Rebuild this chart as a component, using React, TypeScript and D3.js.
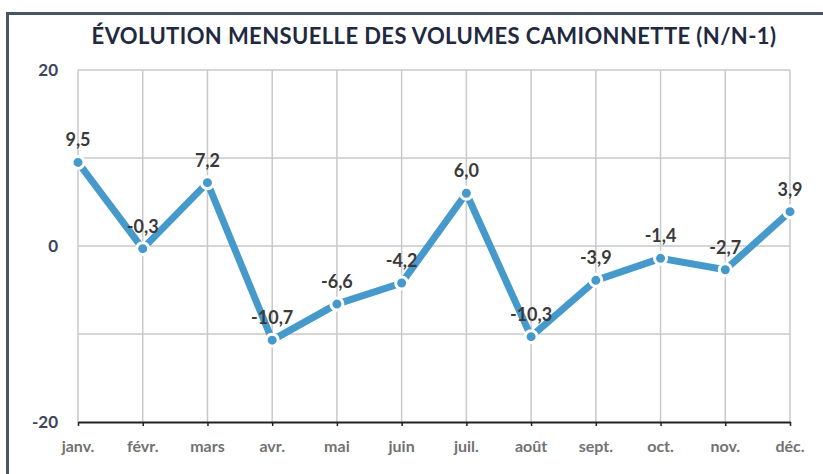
import { useEffect, useRef } from "react"
import * as d3 from "d3"

// données
const months = ["janv.", "févr.", "mars", "avr.", "mai", "juin", "juil.", "août", "sept.", "oct.", "nov.", "déc."]
const values = [9.5, -0.3, 7.2, -10.7, -6.6, -4.2, 6.0, -10.3, -3.9, -1.4, -2.7, 3.9]
const gridTicks = [-20, -10, 0, 10, 20]
const labelTicks = [-20, 0, 20]
const title = "ÉVOLUTION MENSUELLE DES VOLUMES CAMIONNETTE (N/N-1)"

// virgule décimale et tiret simple comme sur l'original
const fmt = (v: number) => d3.format(".1f")(v).replace(".", ",").replace("−", "-")

export default function App() {
  const svgRef = useRef<SVGSVGElement>(null)

  useEffect(() => {
    const svg = d3.select(svgRef.current)
    const width = 823
    const height = 474
    const margin = { top: 70, right: 33, bottom: 52, left: 78 }
    const font = "Lato, 'Open Sans', sans-serif"

    svg.selectAll("*").remove()

    svg.append("rect").attr("width", width).attr("height", height).attr("fill", "#fff")

    // cadre
    svg.append("path")
      .attr("d", `M7.5,${height} V13.5 H${width}`)
      .attr("fill", "none")
      .attr("stroke", "#4a5466")
      .attr("stroke-width", 3)

    // titre
    svg.append("text")
      .attr("x", 434)
      .attr("y", 44)
      .attr("text-anchor", "middle")
      .attr("font-family", font)
      .attr("font-weight", 700)
      .attr("font-size", 22)
      .attr("letter-spacing", 0.4)
      .attr("fill", "#1f2940")
      .text(title)

    const x = d3.scalePoint()
      .domain(months)
      .range([margin.left, width - margin.right])

    const y = d3.scaleLinear()
      .domain([-20, 20])
      .range([height - margin.bottom, margin.top])

    // grille
    const grid = svg.append("g").attr("stroke", "#c9c9c9").attr("stroke-width", 1.5)
    grid.selectAll("line.h")
      .data(gridTicks.filter(t => t !== -20))
      .join("line")
      .attr("class", "h")
      .attr("x1", margin.left)
      .attr("x2", width - margin.right)
      .attr("y1", d => y(d))
      .attr("y2", d => y(d))
    grid.selectAll("line.v")
      .data(months)
      .join("line")
      .attr("class", "v")
      .attr("x1", d => x(d)!)
      .attr("x2", d => x(d)!)
      .attr("y1", margin.top)
      .attr("y2", y(-20))

    // axe du bas
    svg.append("g")
      .attr("transform", `translate(0,${y(-20)})`)
      .call(d3.axisBottom(x).tickSize(4).tickSizeOuter(0).tickFormat(() => ""))
      .call(g => g.select(".domain").attr("stroke", "#222").attr("stroke-width", 2))
      .call(g => g.selectAll(".tick line").attr("stroke", "#222").attr("stroke-width", 1.5))

    svg.append("g")
      .selectAll("text")
      .data(months)
      .join("text")
      .attr("x", d => x(d)!)
      .attr("y", 452)
      .attr("text-anchor", "middle")
      .attr("font-family", font)
      .attr("font-weight", 700)
      .attr("font-size", 16)
      .attr("fill", "#727272")
      .text(d => d)

    // étiquettes de l'axe vertical
    svg.append("g")
      .selectAll("text")
      .data(labelTicks)
      .join("text")
      .attr("x", 58)
      .attr("y", d => y(d) + 6)
      .attr("text-anchor", "end")
      .attr("font-family", font)
      .attr("font-weight", 700)
      .attr("font-size", 17)
      .attr("fill", "#3b4558")
      .text(d => d)

    // courbe
    const line = d3.line<number>()
      .x((_, i) => x(months[i])!)
      .y(d => y(d))

    svg.append("path")
      .datum(values)
      .attr("fill", "none")
      .attr("stroke", "#4699cb")
      .attr("stroke-width", 7)
      .attr("d", line)

    svg.append("g")
      .selectAll("circle")
      .data(values)
      .join("circle")
      .attr("cx", (_, i) => x(months[i])!)
      .attr("cy", d => y(d))
      .attr("r", 6)
      .attr("fill", "#4699cb")
      .attr("stroke", "#fff")
      .attr("stroke-width", 3)

    svg.append("g")
      .selectAll("text")
      .data(values)
      .join("text")
      .attr("x", (_, i) => x(months[i])!)
      .attr("y", d => y(d) - 16)
      .attr("text-anchor", "middle")
      .attr("font-family", font)
      .attr("font-weight", 700)
      .attr("font-size", 18)
      .attr("fill", "#3a3a3a")
      .text(d => fmt(d))
  }, [])

  return (
    <svg
      ref={svgRef}
      width={823}
      height={474}
      style={{ position: "absolute", left: 0, top: 0, display: "block" }}
    />
  )
}
